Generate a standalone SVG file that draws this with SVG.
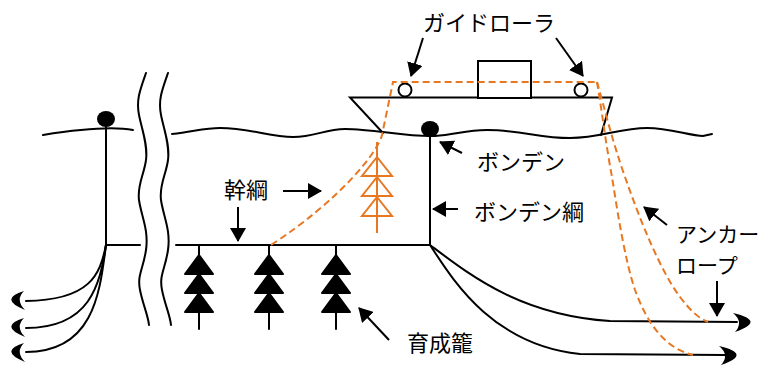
<svg xmlns="http://www.w3.org/2000/svg" width="775" height="367" viewBox="0 0 775 367">
  <style>
    .ln { fill: none; stroke: #000; stroke-width: 2; stroke-linecap: round; }
    .rope { fill: none; stroke: #E87722; stroke-width: 2; stroke-dasharray: 7 4; }
    .float { fill: none; stroke: #E87722; stroke-width: 2; stroke-linejoin: miter; }
    .cage { fill: #000; stroke: #000; stroke-width: 2; stroke-linejoin: round; }
    .arr { fill: none; stroke: #000; stroke-width: 2; marker-end: url(#ah); }
    .lbl { font-family: "Noto Sans CJK JP", "Noto Sans", sans-serif; font-size: 22px; fill: #000; }
    .lbl-sm { font-size: 21px; }
    .solid { fill: #000; }
  </style>
  <defs>
    <marker id="ah" viewBox="0 0 14 16" refX="13" refY="8" markerWidth="14" markerHeight="16" markerUnits="userSpaceOnUse" orient="auto">
      <path d="M0,0 L14,8 L0,16 Z" fill="#000"/>
    </marker>
    <!-- culture cage: three stacked filled triangles on a stem -->
    <g id="cageShape">
      <line x1="0" y1="0" x2="0" y2="84" class="ln"/>
      <path class="cage" d="M0,10 L14,29 L-14,29 Z M0,29 L14,48 L-14,48 Z M0,48 L14,67 L-14,67 Z"/>
    </g>
    <!-- crescent anchor heads -->
    <path id="anchorR" d="M0,0 Q34,8 2,19 Q11,9 0,0 Z"/>
    <path id="anchorL" d="M0,0 Q-26,8 1,19 Q-9,9 0,0 Z"/>
  </defs>

  <!-- sea surface -->
  <g id="sea">
    <path class="ln" d="M43,135 Q106,125 133,130"/>
    <path class="ln" d="M172,134 C196,131 205,128 220,128 C250,128 270,137 293,137 C315,137 325,129 345,129 C375,129 405,137 435,136 C455,135 465,130 487,130 C520,130 540,138 570,138 C600,138 620,128 647,128 C670,128 690,136 703,136 L712,134"/>
  </g>

  <!-- break marks -->
  <g id="break">
    <path class="ln" stroke-width="1.6" d="M146,73 C140,90 136,100 139,115 S148,145 146,160 S137,185 139,200 S149,230 146,250 S137,275 140,290 S148,315 149,325"/>
    <path class="ln" stroke-width="1.6" d="M168,73 C162,90 158,100 161,115 S170,145 168,160 S159,185 161,200 S171,230 168,250 S159,275 162,290 S170,315 171,325"/>
  </g>

  <!-- ship -->
  <g id="ship">
    <path class="ln" d="M383,133 L350,97.5 L612,97.5 L601,135"/>
    <rect x="478" y="61" width="53" height="37" fill="#fff" stroke="#000" stroke-width="2"/>
  </g>
  <g id="guide-rollers">
    <circle cx="405" cy="90" r="6.5" fill="#fff" stroke="#000" stroke-width="2"/>
    <circle cx="581" cy="90" r="6.5" fill="#fff" stroke="#000" stroke-width="2"/>
  </g>

  <!-- buoys -->
  <g id="buoy-left">
    <ellipse class="solid" cx="106" cy="119" rx="9" ry="8"/>
    <line class="ln" x1="106" y1="126" x2="106" y2="245"/>
  </g>
  <g id="bonden">
    <ellipse class="solid" cx="430" cy="129" rx="9" ry="8"/>
  </g>

  <!-- floating cage (hauled up) -->
  <g id="float-cage">
    <line x1="377" y1="142" x2="377" y2="233" stroke="#E87722" stroke-width="2"/>
    <path class="float" d="M377,157 L392,176 L362,176 Z M377,177 L392,196 L362,196 Z M377,197 L392,216 L362,216 Z"/>
  </g>

  <!-- culture cages -->
  <g id="cage-1"><use href="#cageShape" x="199" y="245"/></g>
  <g id="cage-2"><use href="#cageShape" x="269" y="245"/></g>
  <g id="cage-3"><use href="#cageShape" x="336" y="245"/></g>

  <!-- anchors -->
  <g id="anchors">
    <use href="#anchorR" x="733" y="313"/>
    <use href="#anchorR" x="719" y="346"/>
    <use href="#anchorL" x="24" y="291"/>
    <use href="#anchorL" x="24" y="318"/>
    <use href="#anchorL" x="24" y="343"/>
  </g>

  <!-- connectors -->
  <g id="connectors">
    <!-- main line and bonden line -->
    <line class="ln" x1="106" y1="245" x2="140" y2="245"/>
    <line class="ln" x1="176" y1="245" x2="430" y2="245"/>
    <line class="ln" x1="430" y1="137" x2="430" y2="245"/>
    <!-- ground ropes -->
    <path class="ln" d="M430,245 C470,275 520,315 610,321 L737,322"/>
    <path class="ln" d="M430,245 C450,275 490,345 580,354 L725,355"/>
    <path class="ln" d="M106,245 C100,275 90,300 26,301"/>
    <path class="ln" d="M106,245 C100,285 90,328 26,328"/>
    <path class="ln" d="M106,245 C100,290 95,352 26,352"/>
    <!-- hauling ropes -->
    <path class="rope" d="M271,245 C340,200 378,152 382,135 L393,82 L597,82"/>
    <path class="rope" d="M597,82 C605,110 612,140 625,177 C640,220 660,270 680,297 C690,310 698,318 708,322"/>
    <path class="rope" d="M597,82 C601,105 606,145 612,177 C618,215 625,260 635,290 C648,325 665,348 693,355"/>
    <!-- label arrows -->
    <line class="arr" x1="423" y1="38" x2="411" y2="76"/>
    <line class="arr" x1="556" y1="38" x2="583" y2="76"/>
    <line class="arr" x1="283" y1="191" x2="321" y2="191"/>
    <line class="arr" x1="238" y1="207" x2="238" y2="241"/>
    <line class="arr" x1="462" y1="153" x2="440" y2="142"/>
    <line class="arr" x1="458" y1="209" x2="433" y2="209"/>
    <line class="arr" x1="667" y1="225" x2="644" y2="207"/>
    <line class="arr" x1="717" y1="281" x2="717" y2="316"/>
    <line class="arr" x1="389" y1="340" x2="359" y2="308"/>
  </g>

  <!-- labels -->
  <g id="labels">
    <text class="lbl" x="489" y="31" text-anchor="middle">ガイドローラ</text>
    <text class="lbl" x="246" y="198" text-anchor="middle">幹綱</text>
    <text class="lbl" x="521" y="170" text-anchor="middle">ボンデン</text>
    <text class="lbl" x="529" y="220" text-anchor="middle">ボンデン綱</text>
    <text class="lbl lbl-sm" x="676" y="242">アンカー</text>
    <text class="lbl lbl-sm" x="676" y="273">ロープ</text>
    <text class="lbl" x="440" y="351" text-anchor="middle">育成籠</text>
  </g>
</svg>
